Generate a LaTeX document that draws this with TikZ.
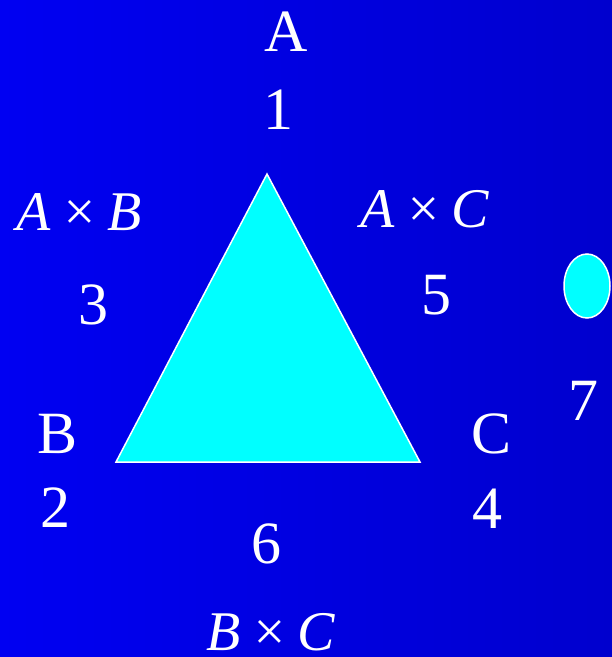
\documentclass[tikz,border=0pt]{standalone}
\usepackage{fontspec}
\setmainfont{Liberation Serif}
\usepackage{xcolor}
\usepackage{tikz}
\definecolor{bgleft}{HTML}{0000F2}
\definecolor{bgright}{HTML}{0000CE}
\definecolor{aqua}{HTML}{00FFFF}
\tikzset{lbl/.style={text=white,font=\fontsize{60}{60}\selectfont,inner sep=0pt},prod/.style={text=white,font=\fontsize{56}{56}\selectfont\itshape,inner sep=0pt},solid/.style={fill=aqua,draw=white,line width=1.5pt}}

\begin{document}
\begin{tikzpicture}[x=1pt,y=-1pt]
\shade[left color=bgleft,right color=bgright] (0,0) rectangle (612,657);
\useasboundingbox (0,0) rectangle (612,657);
\coordinate (a) at (267,174);\coordinate (b) at (116,462);\coordinate (c) at (420,462);
\draw[solid] (a)--(b)--(c)--cycle;
\draw[solid] (587,286) ellipse[x radius=23pt,y radius=32pt];
\node[lbl] (na) at (286,32) {A};
\node[lbl] (n1) at (278,110) {1};
\node[prod] (ab) at (79,212) {A\,×\,B};
\node[lbl] (n3) at (93,305) {3};
\node[prod] (ac) at (425,209) {A\,×\,C};
\node[lbl] (n5) at (436,295) {5};
\node[lbl] (n7) at (583,401) {7};
\node[lbl] (nb) at (58,434) {B};
\node[lbl] (n2) at (55,508) {2};
\node[lbl] (nc) at (492,434) {C};
\node[lbl] (n4) at (487,509) {4};
\node[lbl] (n6) at (266,544) {6};
\node[prod] (bc) at (271,632) {B\,×\,C};
\end{tikzpicture}
\end{document}
